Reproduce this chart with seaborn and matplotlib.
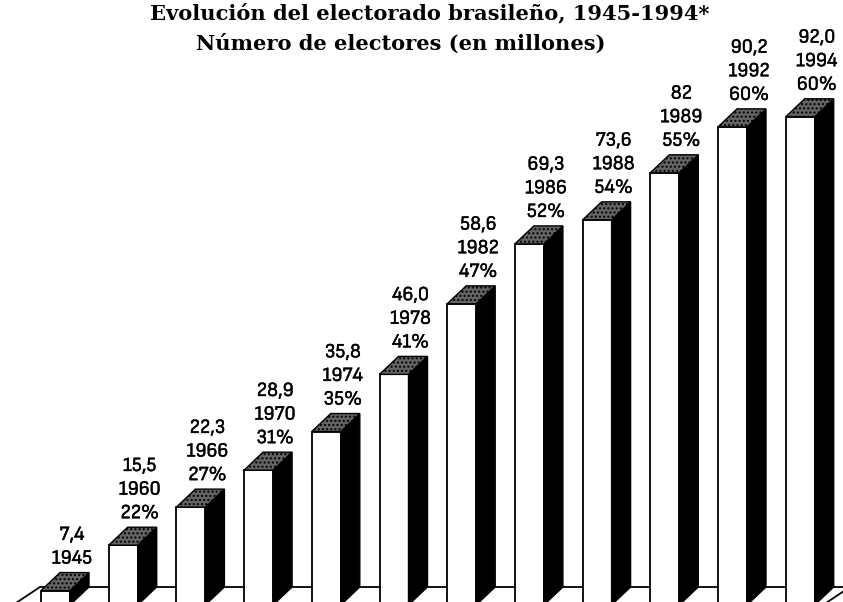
import matplotlib
matplotlib.use("Agg")
import matplotlib.pyplot as plt
from matplotlib.patches import Polygon
from matplotlib import font_manager
import matplotlib.patheffects as pe
import seaborn as sns
import pandas as pd

# Data
years = ["1945", "1960", "1966", "1970", "1974", "1978",
         "1982", "1986", "1988", "1989", "1992", "1994"]
electores = [7.4, 15.5, 22.3, 28.9, 35.8, 46.0, 58.6, 69.3, 73.6, 82.0, 90.2, 92.0]
electores_lab = ["7,4", "15,5", "22,3", "28,9", "35,8", "46,0",
                 "58,6", "69,3", "73,6", "82", "90,2", "92,0"]
porcentaje = ["", "22%", "27%", "31%", "35%", "41%",
              "47%", "52%", "54%", "55%", "60%", "60%"]

df = pd.DataFrame({"year": years, "electores": electores})

sns.set_style("white")
plt.rcParams["text.color"] = "black"

# look for a narrow sans font for the bar labels
narrow = None
for f in font_manager.fontManager.ttflist:
    name = (f.name + " " + f.fname).lower()
    if ("narrow" in name or "condensed" in name) and "sans" in name \
            and "bold" not in name and "italic" not in name and "oblique" not in name:
        narrow = f.fname
        if "liberation" in name:
            break
if narrow:
    lab_font = font_manager.FontProperties(fname=narrow, size=14.5)
else:
    lab_font = font_manager.FontProperties(family="DejaVu Sans", size=11.5)

W, H = 843, 602
fig = plt.figure(figsize=(W / 100, H / 100), dpi=100)
fig.patch.set_facecolor("white")

# axes placed so one category = 67.7 px, value scale 5.6 px per million
px_cat = 67.7
px_val = 5.6
zero_px = 632          # pixel row of value 0 (below the picture)
left_px = 55.5 - px_cat / 2
ax = fig.add_axes([left_px / W, 0, 12 * px_cat / W, 1])

bar_w = 29 / px_cat
sns.barplot(data=df, x="year", y="electores", color="white", saturation=1,
            edgecolor="black", linewidth=1.3, width=bar_w, errorbar=None,
            ax=ax, zorder=2)

ax.set_xlim(-0.5, 11.5)
ax.set_ylim((zero_px - H) / px_val, zero_px / px_val)
ax.axis("off")

# depth of the fake 3D look, in data units
ddx = 19 / px_cat
ddy = 18 / px_val
floor = (zero_px - 605) / px_val   # front edge of the floor

# floor (white, only back line and side edges show)
fdx = 27 / px_cat
fl = (40 - 55.5) / px_cat
fr = (850 - 55.5) / px_cat
ax.add_patch(Polygon([(fl - fdx, floor), (fl, floor + ddy), (fr, floor + ddy), (fr - fdx, floor)],
                     closed=True, facecolor="white", edgecolor="black", lw=1.3,
                     zorder=1, clip_on=False))

for i, p in enumerate(ax.patches[:len(years)]):
    x0 = p.get_x()
    x1 = x0 + p.get_width()
    h = p.get_height()
    side = Polygon([(x1, floor), (x1, h), (x1 + ddx, h + ddy), (x1 + ddx, floor + ddy)],
                   closed=True, facecolor="black", edgecolor="black", lw=1.0,
                   zorder=3, clip_on=False)
    top = Polygon([(x0, h), (x1, h), (x1 + ddx, h + ddy), (x0 + ddx, h + ddy)],
                  closed=True, facecolor="#646464", edgecolor="black", lw=1.0,
                  hatch="....", zorder=3, clip_on=False)
    ax.add_patch(side)
    ax.add_patch(top)

    lab = electores_lab[i] + "\n" + years[i]
    if porcentaje[i]:
        lab += "\n" + porcentaje[i]
    ax.annotate(lab, xy=(x0 + p.get_width() / 2, h), xytext=(16.5, 27),
                textcoords="offset pixels", ha="center", va="baseline",
                multialignment="center", linespacing=1.4,
                fontproperties=lab_font, color="black",
                path_effects=[pe.withStroke(linewidth=0.3, foreground="black")])

fig.text(430 / W, 1 - 19 / H, "Evolución del electorado brasileño, 1945-1994*",
         ha="center", va="baseline", fontsize=15.1, fontweight="bold",
         family=["DejaVu Serif"], color="black")
fig.text(401 / W, 1 - 50 / H, "Número de electores (en millones)",
         ha="center", va="baseline", fontsize=15.1, fontweight="bold",
         family=["DejaVu Serif"], color="black")

fig.savefig("out.png", dpi=100)
